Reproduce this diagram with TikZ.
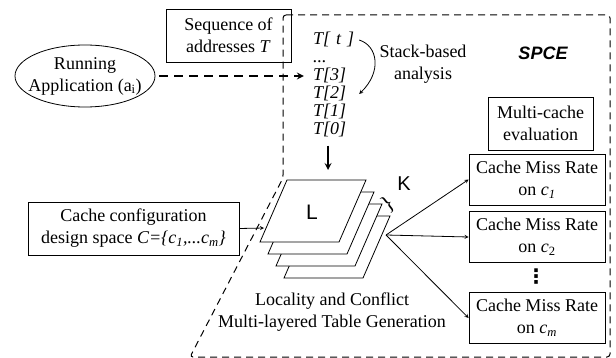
\documentclass[tikz,border=0pt]{standalone}
\usepackage{fontspec}
\setmainfont{Liberation Serif}
\setsansfont{Liberation Sans}
\newfontfamily\dotsfont{DejaVu Sans}
\usetikzlibrary{shapes,arrows,arrows.meta}
\usetikzlibrary{positioning}
\tikzset{every node/.style={font=\fontsize{18}{22}\selectfont},
box/.style={draw,line width=0.8pt,inner sep=0pt,align=center},
tcell/.style={text width=50pt,text height=12pt,text depth=3pt,align=left,inner sep=0pt,font=\fontsize{18}{22}\selectfont\itshape},
layer/.style={draw,line width=0.8pt,fill=white},
region/.style={line width=1pt,dash pattern=on 7pt off 5pt,rounded corners=3pt}
}

\begin{document}
\begin{tikzpicture}[> = stealth, x=1pt, y=-1pt, node distance=18pt, on grid]
            \useasboundingbox (0,0) rectangle (616,358);
            % input side
            \node[draw,ellipse,line width=0.8pt,minimum width=140pt,minimum height=62pt,inner xsep=-9pt,inner ysep=0pt,align=center] (app) at (85,76) {Running\\Application (a\textsubscript{i})};
            \node[box,minimum width=125pt,minimum height=53pt] (seq) at (228.5,35.5) {Sequence of\\addresses \textit{T}};
            \node[box,minimum width=211pt,minimum height=53pt] (cfg) at (133.5,228.5) {Cache configuration\\design space \textit{C=\{c\textsubscript{1},...c\textsubscript{m}\}}};
            % address trace
            \node[tcell] (t_t) at (338,40) {T[ t ]};
            \node[tcell] (t_d) [below of=t_t] {...};
            \node[tcell] (t_3) [below of=t_d] {T[3]};
            \node[tcell] (t_2) [below of=t_3] {T[2]};
            \node[tcell] (t_1) [below of=t_2] {T[1]};
            \node[tcell] (t_0) [below of=t_1] {T[0]};
            \node[align=center] (sba) at (423,64) {Stack-based\\analysis};
            \node[font=\fontsize{18}{22}\sffamily\bfseries\itshape] (spce) at (543,53) {SPCE};
            % table layers
            \draw[layer] (311,216) -- (390,216) -- (363,278) -- (284,278) -- cycle;
            \draw[layer] (303,204) -- (382,204) -- (355,266) -- (276,266) -- cycle;
            \draw[layer] (295,192) -- (374,192) -- (347,254) -- (268,254) -- cycle;
            \draw[layer] (287,180) -- (366,180) -- (339,242) -- (260,242) -- cycle;
            \node[font=\fontsize{21}{24}\sffamily] (lbl_l) at (312,212) {L};
            \node[font=\fontsize{20}{24}\sffamily] (lbl_k) at (404,184) {K};
            \node[rotate=38,inner sep=0pt,font=\fontsize{22}{22}\selectfont] (brc) at (388,204) {\}};
            \node[align=center] (gen) at (332,312) {Locality and Conflict\\Multi-layered Table Generation};
            \coordinate (l_top) at (328,170);
            \coordinate (l_in) at (264,228);
            \coordinate (hub) at (386,235);
            % evaluation side
            \node[box,minimum width=105pt,minimum height=53pt] (mce) at (540.5,123.5) {Multi-cache\\evaluation};
            \node[box,minimum width=136pt,minimum height=51pt] (c_1) at (537,179.5) {Cache Miss Rate\\on \textit{c}\textsubscript{\textit{1}}};
            \node[box,minimum width=136pt,minimum height=51pt] (c_2) at (537,237) {Cache Miss Rate\\on \textit{c}\textsubscript{2}};
            \node[inner sep=0pt,font=\fontsize{20}{20}\dotsfont\bfseries] (vd) at (536,277) {⋮};
            \node[box,minimum width=136pt,minimum height=51pt] (c_m) at (537,318) {Cache Miss Rate\\on \textit{c}\textsubscript{\textit{m}}};
            % SPCE boundary
            \draw[region] (283,15) -- (610,15) -- (610,357) -- (190,357) -- (283,178) -- cycle;
            \draw[->,line width=0.8pt] ([xshift=-4pt]t_t.east) .. controls (378,46) and (382,72) .. ([xshift=-4pt]t_2.east);
            \draw[->,line width=2pt,dash pattern=on 9pt off 6pt,shorten <=4pt,shorten >=9pt] (app) -- (t_3);
            \draw[->,line width=2pt] ([yshift=-8pt]l_top |- t_0.south) -- (l_top);
            \draw[->,line width=0.8pt] (cfg.east) -- (l_in);
            \path[->,line width=0.8pt] (hub) edge (c_1.west)
                (hub) edge (c_2.west)
                (hub) edge (c_m.west);
        \end{tikzpicture}
\end{document}
